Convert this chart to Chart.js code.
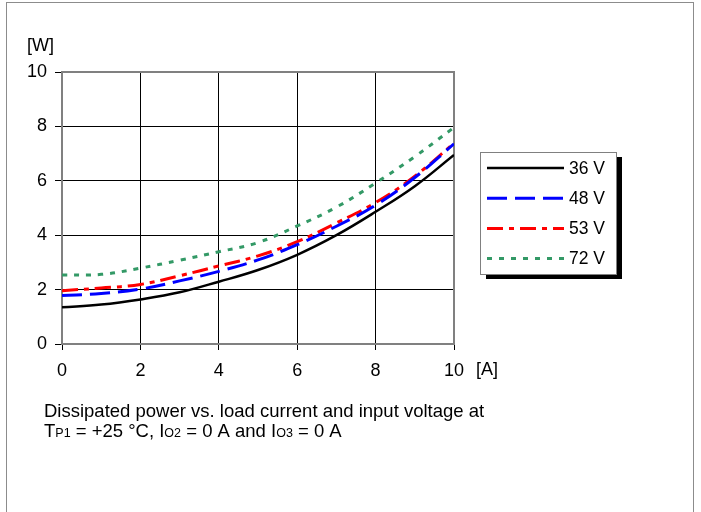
<!DOCTYPE html>
<html>
<head>
<meta charset="utf-8">
<script src="https://cdn.jsdelivr.net/npm/chart.js@4/dist/chart.umd.min.js"></script>
<style>
  html, body { margin: 0; padding: 0; background: #fff; }
  #wrap { position: relative; width: 701px; height: 512px; }
  canvas { display: block; }
</style>
</head>
<body>
<div id="wrap"><canvas id="c" width="701" height="512"></canvas></div>
<script>
// Load current in A
const currents = [0, 1, 2, 3, 4, 5, 6, 7, 8, 9, 10];
// Dissipated power in W for each input voltage
const p36 = [1.35, 1.45, 1.64, 1.90, 2.29, 2.72, 3.28, 4.00, 4.86, 5.80, 6.95];
const p48 = [1.78, 1.86, 2.02, 2.32, 2.67, 3.09, 3.65, 4.33, 5.10, 6.12, 7.36];
const p53 = [1.96, 2.06, 2.19, 2.51, 2.87, 3.24, 3.76, 4.45, 5.20, 6.17, 7.38];
const p72 = [2.54, 2.56, 2.79, 3.08, 3.39, 3.73, 4.34, 5.03, 5.92, 6.89, 7.96];
const seriesNames = ['36 V', '48 V', '53 V', '72 V'];
const xTicks = [0, 2, 4, 6, 8, 10];
const yTicks = [0, 2, 4, 6, 8, 10];

const FONT = 'Arial, "Liberation Sans", Helvetica, sans-serif';
const pts = arr => arr.map((v, i) => ({ x: currents[i], y: v }));

// Frame of the plot area, drawn in gray over the gridlines
const frame = {
  id: 'frame',
  beforeDatasetsDraw(chart) {
    const { ctx, chartArea: a } = chart;
    ctx.save();
    ctx.strokeStyle = '#808080';
    ctx.lineWidth = 2;
    ctx.strokeRect(a.left, a.top, a.right - a.left, a.bottom - a.top);
    ctx.restore();
  }
};

// Outer border, units, legend box and caption
const decor = {
  id: 'decor',
  afterDraw(chart) {
    const { ctx } = chart;
    ctx.save();
    // outer border
    ctx.strokeStyle = '#8c8c8c';
    ctx.lineWidth = 1;
    ctx.strokeRect(6.5, 2.5, 687, 520);

    ctx.fillStyle = '#000';
    ctx.font = '18px ' + FONT;
    ctx.textBaseline = 'middle';
    ctx.textAlign = 'left';
    ctx.fillText('[W]', 27, 46);
    ctx.fillText('[A]', 476, 370);

    // legend box with shadow
    const lx = 480, ly = 152, lw = 136, lh = 122;
    ctx.fillStyle = '#000';
    ctx.fillRect(lx + 6, ly + 5, lw, lh);
    ctx.fillStyle = '#fff';
    ctx.fillRect(lx, ly, lw, lh);
    ctx.strokeStyle = '#808080';
    ctx.lineWidth = 1;
    ctx.strokeRect(lx + 0.5, ly + 0.5, lw, lh);
    chart.data.datasets.forEach((ds, i) => {
      const y = 168 + i * 30.2;
      ctx.beginPath();
      ctx.setLineDash(ds.borderDash || []);
      ctx.strokeStyle = ds.borderColor;
      ctx.lineWidth = ds.borderWidth;
      ctx.moveTo(487, y);
      ctx.lineTo(564, y);
      ctx.stroke();
      ctx.setLineDash([]);
      ctx.fillStyle = '#000';
      ctx.font = '17.5px ' + FONT;
      ctx.fillText(ds.label, 569, y + 1);
    });

    // caption with subscripts
    ctx.fillStyle = '#000';
    ctx.textBaseline = 'alphabetic';
    ctx.font = '18.5px ' + FONT;
    ctx.fillText('Dissipated power vs. load current and input voltage at', 44, 417);
    const parts = [
      ['T', 18.5], ['P1', 12.5], [' = +25 °C, I', 18.5], ['O2', 12.5], [' = 0 A and I', 18.5], ['O3', 12.5], [' = 0 A', 18.5]
    ];
    let x = 44;
    parts.forEach(([t, s]) => {
      ctx.font = s + 'px ' + FONT;
      ctx.fillText(t, x, 437);
      x += ctx.measureText(t).width;
    });
    ctx.restore();
  }
};

const line = (label, data, color, dash, width) => ({
  label, data: pts(data), borderColor: color, backgroundColor: color,
  borderDash: dash, borderWidth: width, pointRadius: 0, fill: false,
  tension: 0.4, borderCapStyle: 'butt'
});

new Chart(document.getElementById('c'), {
  type: 'line',
  data: {
    datasets: [
      line(seriesNames[0], p36, '#000000', [], 2.5),
      line(seriesNames[1], p48, '#0000ff', [20, 8], 3),
      line(seriesNames[2], p53, '#ff0000', [16, 6, 5, 6], 3),
      line(seriesNames[3], p72, '#339966', [5, 7], 3)
    ]
  },
  options: {
    responsive: false,
    animation: false,
    layout: { padding: { left: 0, top: 72, right: 247, bottom: 128 } },
    plugins: { legend: { display: false }, tooltip: { enabled: false } },
    scales: {
      x: {
        type: 'linear', min: 0, max: 10,
        afterBuildTicks: s => { s.ticks = xTicks.map(v => ({ value: v })); },
        afterFit: s => { s.height = 40; },
        grid: { color: '#000', lineWidth: 1, tickLength: 6, tickColor: '#000', drawTicks: true },
        border: { color: '#555', width: 2 },
        ticks: { color: '#000', font: { family: FONT, size: 18 }, padding: 10, maxRotation: 0 }
      },
      y: {
        type: 'linear', min: 0, max: 10,
        afterBuildTicks: s => { s.ticks = yTicks.map(v => ({ value: v })); },
        afterFit: s => { s.width = 62; },
        grid: { color: '#000', lineWidth: 1, tickLength: 7, tickColor: '#000', drawTicks: true },
        border: { color: '#555', width: 2 },
        ticks: { color: '#000', font: { family: FONT, size: 18 }, padding: 8 }
      }
    }
  },
  plugins: [frame, decor]
});
</script>
</body>
</html>
